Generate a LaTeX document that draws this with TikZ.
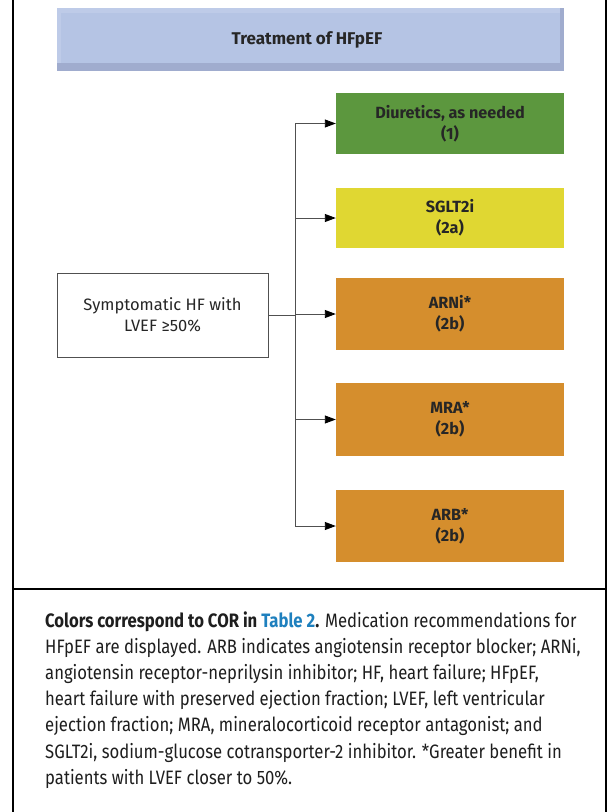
\documentclass[tikz,border=0pt]{standalone}
\usepackage{fontspec}
\setmainfont{Fira Sans}
\newfontfamily\capfont[FakeStretch=0.86]{Fira Sans}
\usetikzlibrary{arrows.meta}
\definecolor{titleblue}{RGB}{181,196,228}
\definecolor{titlelight}{RGB}{190,203,232}
\definecolor{titledark}{RGB}{160,172,206}
\definecolor{cgreen}{RGB}{92,151,62}
\definecolor{cyellow}{RGB}{224,215,50}
\definecolor{corange}{RGB}{213,142,45}
\definecolor{linegray}{RGB}{80,80,80}
\definecolor{tablink}{RGB}{30,128,190}
\definecolor{captext}{RGB}{30,30,30}
\tikzset{
  corbox/.style={minimum width=228pt, inner sep=0pt, align=center, font=\fontsize{16.2}{21}\selectfont\bfseries, text=black!85},
  connector/.style={draw=linegray, line width=0.9pt},
  arrowline/.style={connector, -{Triangle[length=11pt,width=8pt,color=black,fill=black]}},
  capline/.style={anchor=base west, inner sep=0pt, font=\capfont\fontsize{19.4}{26}\selectfont, text=captext},
  frameline/.style={line width=1.8pt, black}
}
\begin{document}
\begin{tikzpicture}[x=1pt,y=-1pt]
\useasboundingbox (0,0) rectangle (608,812);
\fill[white] (0,0) rectangle (608,812);
% frame
\draw[frameline] (13,0) -- (13,812);
\draw[frameline] (606,0) -- (606,812);
\draw[frameline] (13,589) -- (606,589);
% title
\node[fill=titleblue, minimum width=507pt, minimum height=63pt, inner sep=0pt] (title) at (310.5,39.5) {};
\fill[titlelight] (57,8) rectangle (564,13);
\fill[titlelight] (57,8) rectangle (61,71);
\fill[titledark] (560,8) rectangle (564,71);
\fill[titledark] (57,63) rectangle (564,71);
\node[font=\fontsize{17}{20}\selectfont\bfseries, text=black!85] (titletext) at (307,40) {Treatment of HFpEF};
% boxes
\node[corbox, fill=cgreen, minimum height=61pt] (diur) at (450,123.5) {Diuretics, as needed\\(1)};
\node[corbox, fill=cyellow, minimum height=60pt] (sglt) at (450,218) {SGLT2i\\(2a)};
\node[corbox, fill=corange, minimum height=72pt] (arni) at (450,314) {ARNi*\\(2b)};
\node[corbox, fill=corange, minimum height=73pt] (mra) at (450,419.5) {MRA*\\(2b)};
\node[corbox, fill=corange, minimum height=72pt] (arb) at (450,526) {ARB*\\(2b)};
% start box
\node[draw=linegray, line width=0.8pt, minimum width=211pt, minimum height=84pt, align=center, inner sep=0pt, font=\fontsize{16.5}{20.5}\selectfont, text=black!85] (sym) at (162.5,315) {Symptomatic HF with\\LVEF ≥50\%};
% connectors
\coordinate (jtop) at (295,123.5);
\coordinate (jbot) at (295,526);
\draw[connector] (jtop) -- (jbot);
\draw[connector] (sym.east) -- (sym.east -| jtop);
\draw[arrowline] (jtop) -- (diur.west);
\draw[arrowline] (jtop |- sglt.west) -- (sglt.west);
\draw[arrowline] (jtop |- arni.west) -- (arni.west);
\draw[arrowline] (jtop |- mra.west) -- (mra.west);
\draw[arrowline] (jbot) -- (arb.west);
% caption
\node[capline] (cap1) at (45,627) {\textbf{Colors correspond to COR in \textcolor{tablink}{Table 2}.} Medication recommendations for};
\node[capline] (cap2) at (45,653.2) {HFpEF are displayed. ARB indicates angiotensin receptor blocker; ARNi,};
\node[capline] (cap3) at (45,679.4) {angiotensin receptor-neprilysin inhibitor; HF, heart failure; HFpEF,};
\node[capline] (cap4) at (45,705.6) {heart failure with preserved ejection fraction; LVEF, left ventricular};
\node[capline] (cap5) at (45,731.8) {ejection fraction; MRA, mineralocorticoid receptor antagonist; and};
\node[capline] (cap6) at (45,758) {SGLT2i, sodium-glucose cotransporter-2 inhibitor. *Greater benefit in};
\node[capline] (cap7) at (45,784.2) {patients with LVEF closer to 50\%.};
\end{tikzpicture}
\end{document}
